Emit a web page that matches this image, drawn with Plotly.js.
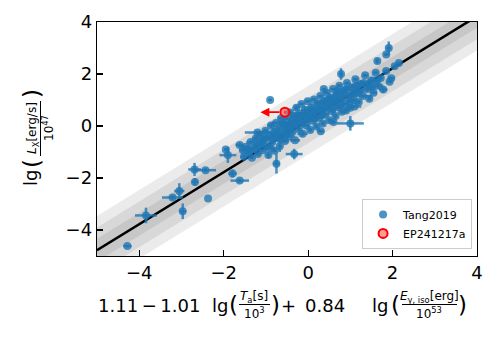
<!DOCTYPE html>
<html>
<head>
<meta charset="utf-8">
<script src="https://cdn.plot.ly/plotly-3.0.1.min.js"></script>
<style>
  html, body { margin: 0; padding: 0; background: #fff; }
  #chart { width: 498px; height: 343px; }
</style>
</head>
<body>
<div id="chart"></div>
<script>
// Tang2019 sample: x = 1.11 - 1.01 lg(Ta/1e3) + 0.84 lg(Eiso/1e53), y = lg(Lx/1e47)
const tangX = [
  -4.28, -3.84, -3.21, -3.05, -2.97, -2.37, -2.68, -2.69, -2.43, -1.79,
  -1.62, -1.95, -1.90, -1.54, -0.90, -0.75, -0.33, 0.37, 0.78, 1.00,
  1.64, 1.91, 1.85, 1.97, 2.15, -1.62, -1.20,
  -1.52, -1.47, -1.41, -1.36, -1.33, -1.28, -1.24, -1.19, -1.16, -1.12,
  -1.08, -1.05, -1.01, -0.97, -0.94, -0.92, -0.88, -0.85, -0.82, -0.79,
  -0.76, -0.73, -0.70, -0.67, -0.64, -0.61, -0.58, -0.55, -0.52, -0.49,
  -0.46, -0.43, -0.40, -0.37, -0.34, -0.31, -0.28, -0.25, -0.22, -0.19,
  -0.16, -0.13, -0.10, -0.07, -0.04, -0.01, 0.02, 0.05, 0.08, 0.11,
  0.14, 0.17, 0.20, 0.23, 0.26, 0.29, 0.32, 0.35, 0.38, 0.41,
  0.44, 0.47, 0.50, 0.53, 0.56, 0.59, 0.62, 0.65, 0.68, 0.71,
  0.74, 0.77, 0.80, 0.84, 0.88, 0.92, 0.96, 1.00, 1.04, 1.08,
  1.12, 1.16, 1.20, 1.25, 1.30, 1.35, 1.40, 1.45, 1.50, 1.55,
  1.60, 1.66, 1.72, 1.78, 1.85, 1.93, 2.05,
  -1.38, -1.22, -1.10, -0.99, -0.90, -0.83, -0.72, -0.66, -0.60, -0.53,
  -0.47, -0.42, -0.36, -0.30, -0.26, -0.20, -0.14, -0.08, -0.02, 0.04,
  0.10, 0.16, 0.22, 0.28, 0.34, 0.40, 0.46, 0.52, 0.58, 0.64,
  0.70, 0.76, 0.82, 0.90, 0.98, 1.06, 1.14, 1.22, 1.32, 1.42,
  1.52, 1.62, 0.30, 0.60, 0.90, 1.10
];
const tangY = [
  -4.62, -3.44, -2.75, -2.50, -3.28, -2.79, -2.15, -1.67, -1.70, -1.83,
  -2.10, -0.90, -1.12, -0.93, 1.00, -1.45, -1.08, 1.42, 2.00, 0.10,
  2.50, 3.00, 2.75, 1.84, 2.42, -0.73, -0.25,
  -1.18, -0.80, -1.02, -0.62, -1.22, -0.88, -0.48, -1.08, -0.70, -0.35,
  -0.93, -0.55, -0.18, -0.78, -1.12, -0.40, 0.02, -0.62, -0.25, -0.95,
  0.12, -0.45, -0.10, -0.78, 0.30, -0.30, 0.05, -0.58, -0.15, 0.28,
  -0.40, 0.52, 0.10, -0.22, 0.38, -0.55, 0.70, 0.18, -0.12, 0.48,
  0.85, -0.30, 0.30, 0.62, 0.02, 0.95, 0.40, -0.15, 0.72, 0.20,
  1.02, 0.55, -0.02, 0.85, 0.32, 1.15, 0.62, 0.10, 0.95, 0.45,
  1.28, 0.75, 0.22, 1.10, 0.58, 1.42, 0.90, 0.38, 1.22, 0.72,
  1.55, 1.02, 0.55, 1.35, 0.85, 1.65, 1.15, 0.70, 1.48, 1.00,
  1.80, 1.30, 0.92, 1.62, 1.15, 1.95, 1.42, 1.05, 1.75, 1.28,
  2.05, 1.55, 1.85, 1.40, 2.12, 1.70, 2.30,
  -0.95, -0.75, -0.62, -0.45, -0.85, -0.45, -0.30, -0.50, 0.12, -0.32,
  0.05, -0.10, 0.20, 0.05, 0.40, 0.25, 0.10, 0.45, 0.25, 0.58,
  0.45, 0.30, 0.62, 0.85, 0.42, 0.70, 1.00, 0.85, 0.65, 1.05,
  1.35, 0.80, 1.15, 1.40, 0.95, 1.25, 1.55, 1.35, 1.65, 1.60,
  1.50, 1.75, -0.20, 0.15, 0.60, 0.75
];
const tangXErr = [
  0.10, 0.26, 0.25, 0.12, 0.08, 0.00, 0.08, 0.15, 0.25, 0.10,
  0.22, 0.04, 0.20, 0.10, 0.04, 0.08, 0.20, 0.04, 0.05, 0.32,
  0.05, 0.06, 0.06, 0.08, 0.05, 0.10, 0.30,
  0.08, 0.12, 0.06, 0.10, 0.05, 0.15, 0.08, 0.06, 0.12, 0.05,
  0.10, 0.08, 0.06, 0.14, 0.05, 0.10, 0.08, 0.06, 0.12, 0.05,
  0.10, 0.08, 0.16, 0.05, 0.08, 0.12, 0.06, 0.10, 0.05, 0.08,
  0.14, 0.06, 0.10, 0.05, 0.08, 0.12, 0.06, 0.10, 0.05, 0.08,
  0.06, 0.12, 0.05, 0.10, 0.08, 0.06, 0.14, 0.05, 0.10, 0.08,
  0.06, 0.12, 0.05, 0.10, 0.08, 0.06, 0.14, 0.05, 0.10, 0.08,
  0.06, 0.12, 0.05, 0.10, 0.08, 0.06, 0.14, 0.05, 0.10, 0.08,
  0.06, 0.12, 0.05, 0.10, 0.08, 0.06, 0.14, 0.05, 0.18, 0.08,
  0.06, 0.12, 0.05, 0.10, 0.22, 0.06, 0.14, 0.05, 0.10, 0.08,
  0.06, 0.12, 0.05, 0.10, 0.08, 0.06, 0.05,
  0.06, 0.10, 0.05, 0.08, 0.12, 0.06, 0.05, 0.10, 0.08, 0.06,
  0.05, 0.08, 0.06, 0.10, 0.05, 0.08, 0.06, 0.12, 0.05, 0.08,
  0.06, 0.10, 0.05, 0.08, 0.06, 0.12, 0.05, 0.08, 0.06, 0.10,
  0.05, 0.08, 0.06, 0.10, 0.05, 0.08, 0.06, 0.12, 0.05, 0.08,
  0.06, 0.10, 0.08, 0.06, 0.05, 0.16
];
const tangYErr = [
  0.04, 0.30, 0.08, 0.30, 0.30, 0.00, 0.15, 0.25, 0.08, 0.15,
  0.08, 0.04, 0.30, 0.10, 0.04, 0.38, 0.20, 0.04, 0.22, 0.28,
  0.10, 0.25, 0.06, 0.05, 0.05, 0.08, 0.06,
  0.10, 0.06, 0.14, 0.08, 0.05, 0.10, 0.12, 0.06, 0.08, 0.16,
  0.05, 0.10, 0.08, 0.06, 0.12, 0.05, 0.10, 0.08, 0.14, 0.06,
  0.05, 0.10, 0.08, 0.22, 0.06, 0.05, 0.10, 0.08, 0.12, 0.06,
  0.05, 0.10, 0.08, 0.14, 0.06, 0.05, 0.10, 0.18, 0.08, 0.06,
  0.05, 0.10, 0.08, 0.12, 0.06, 0.05, 0.10, 0.08, 0.14, 0.06,
  0.05, 0.10, 0.08, 0.12, 0.06, 0.05, 0.10, 0.08, 0.14, 0.06,
  0.05, 0.10, 0.08, 0.12, 0.06, 0.05, 0.10, 0.08, 0.14, 0.06,
  0.05, 0.10, 0.08, 0.12, 0.06, 0.05, 0.10, 0.08, 0.14, 0.06,
  0.05, 0.10, 0.08, 0.12, 0.06, 0.05, 0.10, 0.08, 0.14, 0.06,
  0.05, 0.10, 0.08, 0.12, 0.06, 0.05, 0.08,
  0.08, 0.05, 0.10, 0.06, 0.05, 0.12, 0.08, 0.06, 0.05, 0.10,
  0.08, 0.06, 0.05, 0.12, 0.08, 0.06, 0.10, 0.05, 0.08, 0.06,
  0.10, 0.05, 0.08, 0.06, 0.12, 0.05, 0.08, 0.06, 0.10, 0.05,
  0.08, 0.06, 0.12, 0.05, 0.08, 0.06, 0.10, 0.05, 0.08, 0.06,
  0.10, 0.05, 0.06, 0.08, 0.10, 0.06
];

// EP241217a (upper limit in x, arrow to the left)
const epX = [-0.55];
const epY = [0.53];
const epYErr = [0.06];
const epArrowTo = [-1.13];

// best-fit line and scatter bands
const fitSlope = 1.0;
const fitIntercept = 0.22;
const fitSigma = 0.44;
const bandLevels = [3, 2, 1];
const xRange = [-5, 4];
const yRange = [-5, 4];
const tickVals = [-4, -2, 0, 2, 4];

const blue = 'rgba(31,119,180,0.8)';
const traces = [];

bandLevels.forEach(k => {
  const x0 = xRange[0], x1 = xRange[1];
  const w = k * fitSigma;
  traces.push({
    x: [x0, x1, x1, x0, x0],
    y: [fitSlope * x0 + fitIntercept + w, fitSlope * x1 + fitIntercept + w,
        fitSlope * x1 + fitIntercept - w, fitSlope * x0 + fitIntercept - w,
        fitSlope * x0 + fitIntercept + w],
    type: 'scatter', mode: 'lines', fill: 'toself',
    fillcolor: 'rgba(0,0,0,0.08)', line: {width: 0},
    showlegend: false, hoverinfo: 'skip'
  });
});

traces.push({
  x: xRange,
  y: xRange.map(v => fitSlope * v + fitIntercept),
  type: 'scatter', mode: 'lines',
  line: {color: '#000', width: 2.5},
  showlegend: false
});

traces.push({
  x: tangX, y: tangY,
  type: 'scatter', mode: 'markers', name: 'Tang2019',
  marker: {color: blue, size: 8},
  error_x: {type: 'data', array: tangXErr, visible: true, color: blue, thickness: 2.5, width: 0},
  error_y: {type: 'data', array: tangYErr, visible: true, color: blue, thickness: 2.5, width: 0}
});

traces.push({
  x: epX, y: epY,
  type: 'scatter', mode: 'markers', name: 'EP241217a',
  marker: {color: 'rgba(255,90,90,0.6)', size: 9, line: {color: 'red', width: 2}},
  error_y: {type: 'data', array: epYErr, visible: true, color: 'red', thickness: 2, width: 0}
});

// pixel helpers for the stacked-fraction axis titles
const L = 97, R = 21, T = 22, B = 87, W = 498, H = 343;
const pw = W - L - R, ph = H - T - B;
const px = p => (p - L) / pw;
const py = p => (H - B - p) / ph;
const font = 'DejaVu Sans, sans-serif';
const big = 18, small = 12, paren = 23;

function txt(x, y, text, size, opts) {
  return Object.assign({
    xref: 'paper', yref: 'paper', x: px(x), y: py(y), text: text,
    showarrow: false, font: {family: font, size: size, color: '#000'},
    xanchor: 'center', yanchor: 'middle', borderpad: 0
  }, opts || {});
}

const annotations = [
  // arrow for EP241217a
  {x: epArrowTo[0], y: epY[0], ax: epX[0] - 0.1, ay: epY[0], xref: 'x', yref: 'y',
   axref: 'x', ayref: 'y', showarrow: true, arrowhead: 2, arrowsize: 1,
   arrowwidth: 1.8, arrowcolor: 'red', text: ''},
  // x title
  txt(201, 305, '1.11\u2009−\u20091.01', big, {xanchor: 'right'}),
  txt(229, 305, 'lg', big, {xanchor: 'right'}),
  txt(239, 305, '(', paren, {xanchor: 'right'}),
  txt(254, 297, '<i>T</i><sub>a</sub>[s]', small),
  txt(254, 313, '10<sup>3</sup>', small),
  txt(270, 305, ')', paren, {xanchor: 'left'}),
  txt(288, 305, '+', big),
  txt(325, 305, '0.84', big),
  txt(389, 305, 'lg', big, {xanchor: 'right'}),
  txt(401, 305, '(', paren, {xanchor: 'right'}),
  txt(429, 297, '<i>E</i><sub>γ, iso</sub>[erg]', small),
  txt(429, 313, '10<sup>53</sup>', small),
  txt(457, 305, ')', paren, {xanchor: 'left'}),
  // y title (rotated)
  txt(30, 178, 'lg', big, {textangle: -90}),
  txt(32, 164, '(', paren, {textangle: -90}),
  txt(33, 128, '<i>L</i><sub>X</sub>[erg/s]', small, {textangle: -90}),
  txt(48, 128, '10<sup>47</sup>', small, {textangle: -90}),
  txt(32, 94, ')', paren, {textangle: -90})
];

const shapes = [
  {type: 'line', xref: 'paper', yref: 'paper', x0: px(239), x1: px(270), y0: py(304.5), y1: py(304.5), line: {color: '#000', width: 1}},
  {type: 'line', xref: 'paper', yref: 'paper', x0: px(402), x1: px(457), y0: py(304.5), y1: py(304.5), line: {color: '#000', width: 1}},
  {type: 'line', xref: 'paper', yref: 'paper', x0: px(40.5), x1: px(40.5), y0: py(101), y1: py(156), line: {color: '#000', width: 1}}
];

const axisBase = {
  showgrid: false, zeroline: false, showline: true, mirror: true,
  linecolor: '#000', linewidth: 1.3, ticks: 'inside', ticklen: 6, tickwidth: 1.2,
  tickcolor: '#000', tickvals: tickVals,
  tickfont: {family: font, size: big, color: '#000'}
};

const layout = {
  width: W, height: H,
  margin: {l: L, r: R, t: T, b: B},
  paper_bgcolor: '#fff', plot_bgcolor: '#fff',
  xaxis: Object.assign({}, axisBase, {range: xRange}),
  yaxis: Object.assign({}, axisBase, {range: yRange}),
  showlegend: true,
  legend: {
    x: 0.987, y: 0.03, xanchor: 'right', yanchor: 'bottom',
    bgcolor: 'rgba(255,255,255,0.85)', bordercolor: '#cccccc', borderwidth: 1,
    font: {family: font, size: 11, color: '#000'}, tracegroupgap: 0
  },
  annotations: annotations,
  shapes: shapes
};

Plotly.newPlot('chart', traces, layout, {displayModeBar: false, staticPlot: true});
</script>
</body>
</html>
